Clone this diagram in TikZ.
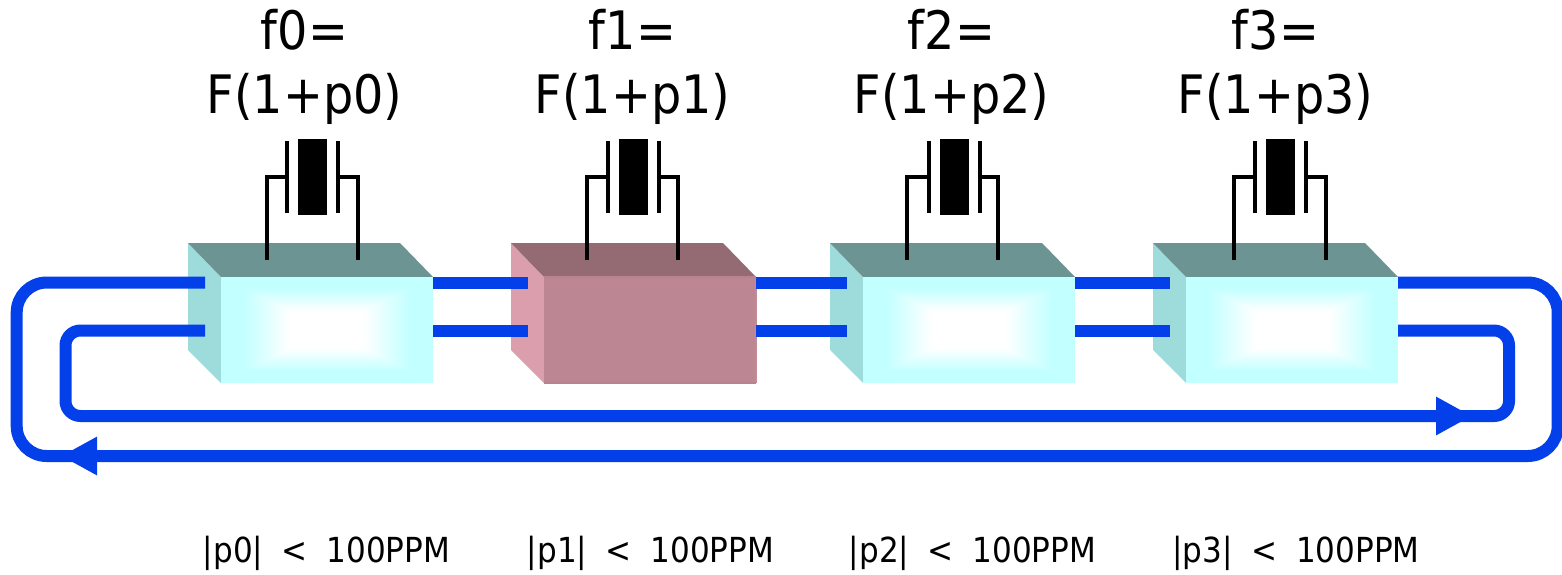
\documentclass[tikz,border=0pt]{standalone}
\usepackage{fontspec}
\setmainfont{DejaVu Sans Condensed}
\newfontfamily\ppmfont[WordSpace=1.9]{DejaVu Sans Condensed}
\usetikzlibrary{arrows.meta, calc}
\definecolor{wireblue}{HTML}{0440EA}
\definecolor{frontcyan}{HTML}{C2FFFF}
\definecolor{sidecyan}{HTML}{9EDCDB}
\definecolor{topcyan}{HTML}{6B9493}
\definecolor{frontpink}{HTML}{BC8793}
\definecolor{sidepink}{HTML}{DB9EAD}
\definecolor{toppink}{HTML}{946B73}
\tikzset{
  wire/.style={wireblue, line width=12pt},
  lead/.style={black, line width=4pt},
  frontface/.style={minimum width=212pt, minimum height=106pt, inner sep=0pt, outer sep=0pt},
  freqlabel/.style={font=\fontsize{53}{64}\selectfont, align=center, text=black, inner sep=0pt},
  ppmlabel/.style={font=\ppmfont\fontsize{34.5}{40}\selectfont, text=black, inner sep=0pt},
  flowtip/.style={-{Triangle[length=36pt, width=36pt]}}
}
\begin{document}
\begin{tikzpicture}[x=1pt, y=-1pt]
  \useasboundingbox (0, 0) rectangle (1562, 574);

  % Oscillator boxes
  \foreach \n/\xb/\fro/\sid/\tp in {0/188/frontcyan/sidecyan/topcyan, 1/511/frontpink/sidepink/toppink, 2/830/frontcyan/sidecyan/topcyan, 3/1153/frontcyan/sidecyan/topcyan} {
    \fill[\sid] (\xb, 243) -- (\xb+33, 277) -- (\xb+33, 383) -- (\xb, 350) -- cycle;
    \fill[\tp] (\xb, 243) -- (\xb+212, 243) -- (\xb+245, 277) -- (\xb+33, 277) -- cycle;
    \node[frontface, fill=\fro] (box\n) at (\xb+139, 330) {};
    \coordinate (portA\n) at (\xb+17, 282.5);
    \coordinate (portB\n) at (\xb+17, 330.5);
  }
  % Soft centre of the cyan faces
  \foreach \n in {0, 2, 3} {
    \foreach \t in {0.20, 0.215, ..., 0.67} {
      \pgfmathsetmacro{\mix}{min(100, (\t-0.20)/0.45*100)}
      \fill[white!\mix!frontcyan] ($(box\n.center)+(-106+106*\t, -53+53*\t)$) rectangle ($(box\n.center)+(106-106*\t, 53-53*\t)$);
    }
  }
  % Pink box edges
  \draw[frontpink!85!sidepink, line width=2pt] (box1.north east) -- (box1.south east);
  \draw[frontpink!85!toppink, line width=2pt] (box1.north west) -- (box1.north east);
  \draw[frontpink!85!toppink, line width=2pt] (box1.south west) -- (box1.south east);

  % Crystals
  \foreach \n/\xc/\xl/\xr in {0/312.5/267/358, 1/633.5/587/678, 2/954/907/998, 3/1280.5/1234/1326} {
    \node[fill=black, minimum width=29pt, minimum height=76pt, inner sep=0pt] (xtal\n) at (\xc, 177) {};
    \coordinate (padL\n) at (\xl, 260);
    \coordinate (padR\n) at (\xr, 260);
    \draw[lead] (\xc-25.5, 141) -- (\xc-25.5, 213);
    \draw[lead] (\xc+25.5, 141) -- (\xc+25.5, 213);
    \draw[lead] (padL\n) |- (\xc-25.5, 177);
    \draw[lead] (padR\n) |- (\xc+25.5, 177);
  }

  % Wires between boxes
  \foreach \a/\b in {0/1, 1/2, 2/3} {
    \draw[wire] (box\a.east |- portA\a) -- (portA\b);
    \draw[wire] (box\a.east |- portB\a) -- (portB\b);
  }

  % Outer ring
  \coordinate (tipOuter) at (61, 456);
  \draw[wire, flowtip, rounded corners=30pt] (box3.east |- portA3) -- (1557.7, 282.5) -- (1557.7, 456) -- (tipOuter);
  \draw[wire, rounded corners=30pt] (96, 456) -- (16.7, 456) -- (16.7, 282.5) -- (portA0);

  % Inner ring
  \coordinate (tipInner) at (1472, 416);
  \draw[wire, flowtip, rounded corners=15pt] (portB0) -- (65.5, 330.5) -- (65.5, 416) -- (tipInner);
  \draw[wire, rounded corners=15pt] (1438, 416) -- (1509, 416) -- (1509, 330.5) -- (box3.east |- portB3);

  % Frequency labels
  \foreach \n/\xt in {0/304.5, 1/632.5, 2/951.5, 3/1275.5} {
    \node[freqlabel] (freq\n) at (\xt, 67) {f\n=\\F(1+p\n)};
  }

  % Tolerance labels
  \foreach \n/\xt in {0/326.5, 1/650.5, 2/972.5, 3/1296} {
    \node[ppmlabel] (ppm\n) at (\xt, 553) {|p\n| < 100PPM};
  }
\end{tikzpicture}
\end{document}
